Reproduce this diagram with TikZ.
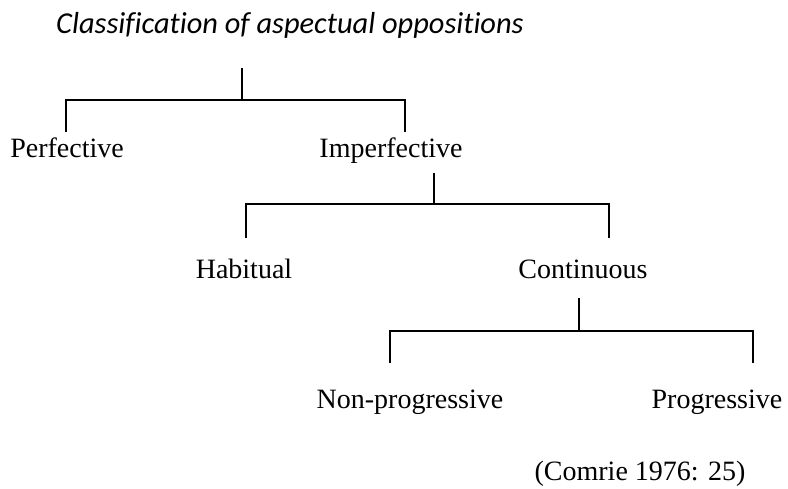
\documentclass[tikz,border=0pt]{standalone}
\usepackage{fontspec}
\setmainfont{Liberation Serif}
\newfontfamily\titlefont[Ligatures=NoCommon]{Carlito}
\usetikzlibrary{positioning}

\begin{document}
\begin{tikzpicture}[x=0.5pt, y=-0.5pt,
  lbl/.style={anchor=base, inner sep=0pt, font=\fontsize{14}{16}\selectfont},
  branch/.style={line width=1.1pt}]
  \useasboundingbox (0,0) rectangle (788,488);

  % labels
  \node[lbl, font=\titlefont\itshape\fontsize{15.2}{17}\selectfont] (title) at (290,33) {Classification of aspectual oppositions};
  \node[lbl] (perf)   at (67,157)  {Perfective};
  \node[lbl] (imperf) at (391,157) {Imperfective};
  \node[lbl] (hab)    at (244,278) {Habitual};
  \node[lbl] (cont)   at (583,278) {Continuous};
  \node[lbl] (nonprog) at (410,408) {Non-progressive};
  \node[lbl] (prog)   at (717,408) {Progressive};
  \node[lbl] (src)    at (640,480) {(Comrie 1976: 25)};

  % fork points
  \coordinate (top1) at (242,68);  \coordinate (bar1) at (242,100);
  \coordinate (perf-up) at (66,132);  \coordinate (imperf-up) at (405,132);
  \coordinate (top2) at (434,173); \coordinate (bar2) at (434,204);
  \coordinate (hab-up) at (246,238);  \coordinate (cont-up) at (609,238);
  \coordinate (top3) at (579,298); \coordinate (bar3) at (579,331);
  \coordinate (nonprog-up) at (390,363); \coordinate (prog-up) at (753,363);

  \draw[branch] (top1) -- (bar1) (perf-up) |- (bar1) -| (imperf-up);
  \draw[branch] (top2) -- (bar2) (hab-up) |- (bar2) -| (cont-up);
  \draw[branch] (top3) -- (bar3) (nonprog-up) |- (bar3) -| (prog-up);
\end{tikzpicture}
\end{document}
